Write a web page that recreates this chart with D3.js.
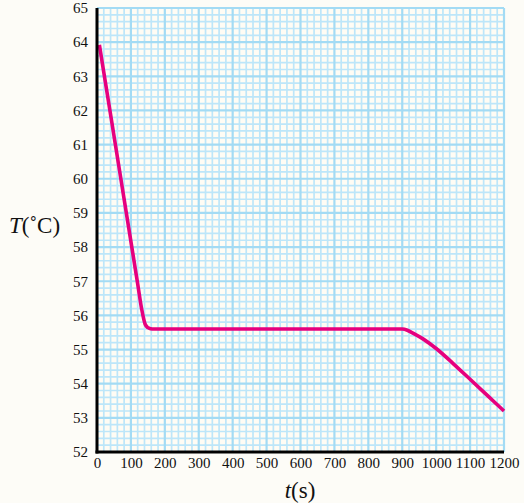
<!DOCTYPE html>
<html>
<head>
<meta charset="utf-8">
<script src="https://cdn.jsdelivr.net/npm/d3@7"></script>
<style>
  html, body { margin: 0; padding: 0; background: #fdfcf7; }
  svg { display: block; }
</style>
</head>
<body>
<svg id="chart" width="524" height="503"></svg>
<script>
// ---- data ----
const timeValues = [7, 40, 80, 120, 132, 142, 150, 158, 168, 180, 300, 500, 700, 900, 915, 930, 960, 1000, 1050, 1100, 1150, 1200];
const tempValues = [63.92, 61.88, 59.40, 56.92, 56.17, 55.74, 55.64, 55.61, 55.60, 55.60, 55.60, 55.60, 55.60, 55.60, 55.565, 55.49, 55.32, 55.03, 54.59, 54.13, 53.665, 53.20];
const xTickLabels = [0, 100, 200, 300, 400, 500, 600, 700, 800, 900, 1000, 1100, 1200];
const yTickLabels = [52, 53, 54, 55, 56, 57, 58, 59, 60, 61, 62, 63, 64, 65];

const svg = d3.select("#chart");
const pLeft = 97, pRight = 504, pTop = 8, pBottom = 452;

const x = d3.scaleLinear().domain([0, 1200]).range([pLeft, pRight]);
const y = d3.scaleLinear().domain([52, 65]).range([pBottom, pTop]);

// plot background
svg.append("rect").attr("x", pLeft).attr("y", pTop)
  .attr("width", pRight - pLeft).attr("height", pBottom - pTop)
  .attr("fill", "#fffcf4");

// minor grid
const minorX = d3.range(0, 1201, 20).filter(v => v % 100 !== 0);
const minorY = d3.range(520, 651, 2).map(v => v / 10).filter(v => Math.abs(v - Math.round(v)) > 1e-6);
const g = svg.append("g");
g.selectAll(".mx").data(minorX).join("line")
  .attr("x1", d => x(d)).attr("x2", d => x(d)).attr("y1", pTop).attr("y2", pBottom)
  .attr("stroke", "#bde6f9").attr("stroke-width", 1.7);
g.selectAll(".my").data(minorY).join("line")
  .attr("y1", d => y(d)).attr("y2", d => y(d)).attr("x1", pLeft).attr("x2", pRight)
  .attr("stroke", "#bde6f9").attr("stroke-width", 1.7);
// major grid
g.selectAll(".Mx").data(xTickLabels).join("line")
  .attr("x1", d => x(d)).attr("x2", d => x(d)).attr("y1", pTop).attr("y2", pBottom)
  .attr("stroke", "#a3dbf4").attr("stroke-width", 2.2);
g.selectAll(".My").data(yTickLabels).join("line")
  .attr("y1", d => y(d)).attr("y2", d => y(d)).attr("x1", pLeft).attr("x2", pRight)
  .attr("stroke", "#a3dbf4").attr("stroke-width", 2.2);

// curve
const data = timeValues.map((t, i) => ({ t, v: tempValues[i] }));
const line = d3.line().x(d => x(d.t)).y(d => y(d.v)).curve(d3.curveMonotoneX);
svg.append("path").datum(data).attr("d", line)
  .attr("fill", "none").attr("stroke", "#e6007e").attr("stroke-width", 3.6)
  .attr("stroke-linejoin", "round").attr("stroke-linecap", "butt");

// axes lines
svg.append("line").attr("x1", pLeft).attr("x2", pLeft).attr("y1", pTop).attr("y2", pBottom + 1.5)
  .attr("stroke", "#000").attr("stroke-width", 3);
svg.append("line").attr("x1", pLeft - 1.5).attr("x2", pRight).attr("y1", pBottom).attr("y2", pBottom)
  .attr("stroke", "#000").attr("stroke-width", 3);

const font = "'Liberation Serif', 'Times New Roman', serif";

const xAxis = svg.append("g").attr("transform", `translate(0,${pBottom})`)
  .call(d3.axisBottom(x).tickValues(xTickLabels).tickSize(0).tickPadding(5).tickFormat(d3.format("d")));
xAxis.select(".domain").remove();
xAxis.attr("font-family", font).attr("font-size", 15);
xAxis.selectAll("text").attr("fill", "#111");

const yAxis = svg.append("g").attr("transform", `translate(${pLeft},0)`)
  .call(d3.axisLeft(y).tickValues(yTickLabels).tickSize(0).tickPadding(9).tickFormat(d3.format("d")));
yAxis.select(".domain").remove();
yAxis.attr("font-family", font).attr("font-size", 15);
yAxis.selectAll("text").attr("fill", "#111");

// axis titles
const yt = svg.append("text").attr("x", 9).attr("y", 233)
  .attr("font-family", font).attr("font-size", 23).attr("fill", "#111");
yt.append("tspan").attr("font-style", "italic").text("T");
yt.append("tspan").text("(˚C)");

const xt = svg.append("text").attr("x", 300).attr("y", 498).attr("text-anchor", "middle")
  .attr("font-family", font).attr("font-size", 23).attr("fill", "#111");
xt.append("tspan").attr("font-style", "italic").text("t");
xt.append("tspan").text("(s)");
</script>
</body>
</html>
